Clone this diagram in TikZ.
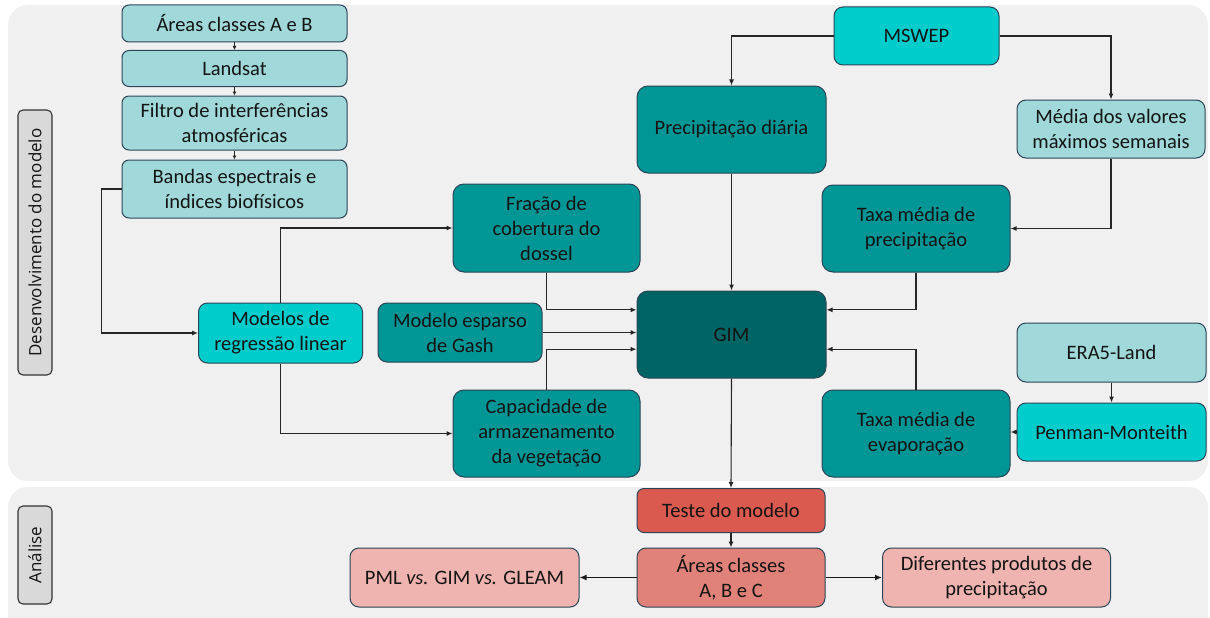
\documentclass[tikz,border=0pt]{standalone}
\usepackage{fontspec}
\setmainfont{Carlito}
\newfontfamily\labelfont{Open Sans}
\usetikzlibrary{arrows.meta,calc}
\definecolor{panelbg}{HTML}{F0F0F0}
\definecolor{lightteal}{HTML}{A1D9DB}
\definecolor{cyanbox}{HTML}{00CCCC}
\definecolor{tealbox}{HTML}{009696}
\definecolor{darkteal}{HTML}{006464}
\definecolor{redbox}{HTML}{DA5A50}
\definecolor{salmonbox}{HTML}{E0817A}
\definecolor{pinkbox}{HTML}{EFB4B0}
\definecolor{boxline}{HTML}{2B4556}
\definecolor{sidefill}{HTML}{D9D9D9}
\definecolor{txt}{HTML}{141414}
\tikzset{
  box/.style={draw=boxline, line width=1pt, rounded corners=9pt, align=center,
    inner sep=0pt, text=txt, font=\fontsize{20.5}{25}\selectfont},
  lt/.style={box, fill=lightteal, rounded corners=7pt},
  cy/.style={box, fill=cyanbox},
  te/.style={box, fill=tealbox, rounded corners=11pt},
  dk/.style={box, fill=darkteal, rounded corners=11pt},
  rd/.style={box, fill=redbox, rounded corners=7pt},
  sa/.style={box, fill=salmonbox},
  pk/.style={box, fill=pinkbox},
  sidelbl/.style={draw=black!80, line width=1.1pt, fill=sidefill, rounded corners=5pt,
    inner sep=0pt, text=txt, font=\labelfont\fontsize{17}{20}\selectfont},
  conn/.style={draw=black!85, line width=1.1pt, -{Latex[length=6pt,width=5pt]}},
  tiny/.style={draw=black!85, line width=1pt, -{Latex[length=4pt,width=4pt]}},
  bigconn/.style={draw=black!90, line width=1.6pt, -{Latex[length=7pt,width=6pt]}}
}
\begin{document}
\begin{tikzpicture}[x=1pt,y=-1pt]
\useasboundingbox (0,0) rectangle (1210,618);
% panels
\fill[panelbg, rounded corners=20pt] (8,5) rectangle (1208,481);
\fill[panelbg, rounded corners=20pt] (8,487) rectangle (1208,640);
% side labels
\node[sidelbl, rotate=90, minimum width=265pt, minimum height=34pt] (lab1) at (35,242.5) {Desenvolvimento do modelo};
\node[sidelbl, rotate=90, minimum width=98pt, minimum height=34pt] (lab2) at (35,555) {Análise};
% left column
\node[lt, minimum width=225pt, minimum height=37pt] (a1) at (234.5,23.5) {Áreas classes A e B};
\node[lt, minimum width=225pt, minimum height=36pt] (a2) at (234.5,68.5) {Landsat};
\node[lt, minimum width=225pt, minimum height=54pt] (a3) at (234.5,123) {Filtro de interferências\\atmosféricas};
\node[lt, minimum width=225pt, minimum height=58pt] (a4) at (234.5,189) {Bandas espectrais e\\índices biofísicos};
% middle
\node[cy, minimum width=164pt, minimum height=60pt] (reg) at (280.5,333) {Modelos de\\regressão linear};
\node[te, minimum width=164pt, minimum height=59pt, rounded corners=9pt] (esp) at (460,332.5) {Modelo esparso\\de Gash};
\node[te, minimum width=187pt, minimum height=88pt] (frac) at (546.5,228) {Fração de\\cobertura do\\dossel};
\node[te, minimum width=187pt, minimum height=87pt] (cap) at (546.5,433.5) {Capacidade de\\armazenamento\\da vegetação};
\node[dk, minimum width=189pt, minimum height=87pt] (gim) at (731.5,334.5) {GIM};
\node[te, minimum width=189pt, minimum height=87pt] (prec) at (731.5,129.5) {Precipitação diária};
\node[cy, minimum width=165pt, minimum height=58pt] (msw) at (916.5,36) {MSWEP};
\node[lt, minimum width=188pt, minimum height=58pt, rounded corners=9pt] (med) at (1111,129) {Média dos valores\\máximos semanais};
\node[te, minimum width=188pt, minimum height=87pt] (tp) at (916,228.5) {Taxa média de\\precipitação};
\node[te, minimum width=188pt, minimum height=87pt] (tev) at (916,433.5) {Taxa média de\\evaporação};
\node[lt, minimum width=189pt, minimum height=59pt, rounded corners=9pt] (era) at (1111.5,352.5) {ERA5-Land};
\node[cy, minimum width=189pt, minimum height=58pt] (pen) at (1111.5,432) {Penman-Monteith};
% bottom
\node[rd, minimum width=188pt, minimum height=44pt] (tst) at (731,510.5) {Teste do modelo};
\node[sa, minimum width=188pt, minimum height=59pt] (ac) at (731,577.5) {Áreas classes\\A, B e C};
\node[pk, minimum width=229pt, minimum height=59pt] (pml) at (464.5,577.5) {PML \textit{vs.} GIM \textit{vs.} GLEAM};
\node[pk, minimum width=228pt, minimum height=59pt] (dif) at (996.5,577.5) {Diferentes produtos de\\precipitação};
% connectors: left column
\draw[tiny] (a1.south) -- (a2.north);
\draw[tiny] (a2.south) -- (a3.north);
\draw[tiny] (a3.south) -- (a4.north);
\draw[conn] (a4.west) -- ++(-20,0) |- (reg.west);
\draw[conn] (reg.north) |- (frac.west);
\draw[conn] (reg.south) |- (cap.west);
\draw[conn] (frac.south) |- ($(gim.north west)!0.22!(gim.south west)$);
\draw[conn] (esp.east) -- (gim.west |- esp.east);
\draw[conn] (cap.north) |- ($(gim.north west)!0.667!(gim.south west)$);
% right side
\draw[conn] (msw.west) -| (prec.north);
\draw[conn] (msw.east) -| (med.north);
\draw[conn] (prec.south) -- (gim.north);
\draw[conn] (med.south) |- (tp.east);
\draw[conn] (tp.south) |- ($(gim.north east)!0.22!(gim.south east)$);
\draw[conn] (tev.north) |- ($(gim.north east)!0.667!(gim.south east)$);
\draw[conn] (era.south) -- (pen.north);
\draw[conn] (pen.west) -- (tev.east |- pen.west);
% analysis
\draw[conn] (gim.south) -- (tst.north);
\draw[conn] (tst.south) -- (ac.north);
\draw[bigconn] (ac.west) -- (pml.east);
\draw[bigconn] (ac.east) -- (dif.west);
\end{tikzpicture}
\end{document}
